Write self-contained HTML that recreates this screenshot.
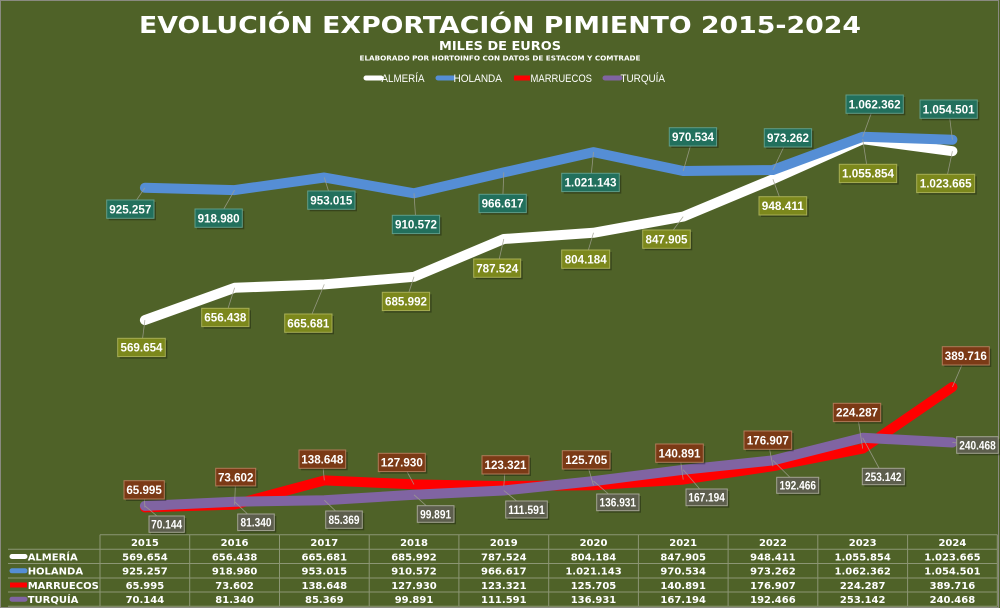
<!DOCTYPE html>
<html><head><meta charset="utf-8"><style>
html,body{margin:0;padding:0;background:#4f6228;}
svg{display:block;}
.t{font-family:"DejaVu Sans","Liberation Sans",sans-serif;font-weight:bold;fill:#fff;}
.lb{font-family:"Liberation Sans",sans-serif;font-weight:bold;fill:#fff;font-size:12px;}
.lbs{font-family:"Liberation Sans",sans-serif;font-weight:bold;fill:#fff;font-size:11.5px;}
.lg{font-family:"Liberation Sans",sans-serif;fill:#fff;font-size:11px;}
.tb{font-family:"DejaVu Sans",sans-serif;font-weight:bold;fill:#fff;font-size:10px;}
</style></head><body>
<svg width="1000" height="608" viewBox="0 0 1000 608" xmlns="http://www.w3.org/2000/svg">
<rect x="0" y="0" width="1000" height="608" fill="#4f6228"/>
<rect x="0.5" y="0.5" width="998" height="607" fill="none" stroke="#8a8a80" stroke-width="1"/>

<!-- Titles -->
<text class="t" x="500" y="33" font-size="23" text-anchor="middle" textLength="722" lengthAdjust="spacingAndGlyphs">EVOLUCIÓN EXPORTACIÓN PIMIENTO 2015-2024</text>
<text class="t" x="500" y="50" font-size="12.5" text-anchor="middle" textLength="122" lengthAdjust="spacingAndGlyphs">MILES DE EUROS</text>
<text class="t" x="500" y="60.5" font-size="7" text-anchor="middle" textLength="281" lengthAdjust="spacingAndGlyphs">ELABORADO POR HORTOINFO CON DATOS DE ESTACOM Y COMTRADE</text>

<!-- Legend -->
<g stroke-linecap="round" stroke-width="5">
<line x1="366" y1="78" x2="381" y2="78" stroke="#ffffff"/>
<line x1="438" y1="78" x2="453" y2="78" stroke="#558ed5"/>
<line x1="514" y1="78" x2="530" y2="78" stroke="#ff0000" stroke-linecap="butt"/>
<line x1="605" y1="78" x2="620" y2="78" stroke="#8064a2"/>
</g>
<text class="lg" x="381.5" y="82" textLength="43" lengthAdjust="spacingAndGlyphs">ALMERÍA</text>
<text class="lg" x="453.5" y="82" textLength="48.5" lengthAdjust="spacingAndGlyphs">HOLANDA</text>
<text class="lg" x="530.5" y="82" textLength="61.5" lengthAdjust="spacingAndGlyphs">MARRUECOS</text>
<text class="lg" x="620.5" y="82" textLength="44.5" lengthAdjust="spacingAndGlyphs">TURQUÍA</text>

<!-- Series lines -->
<g fill="none" stroke-linecap="round" stroke-linejoin="round" stroke-width="10">
<polyline stroke="#ffffff" points="144.9,320.1 234.6,287.8 324.3,284.4 414.0,276.8 503.8,239.0 593.5,232.8 683.2,216.6 772.9,179.2 862.7,139.2 952.4,151.2"/>
<polyline stroke="#558ed5" points="144.9,187.8 234.6,190.1 324.3,177.5 414.0,193.3 503.8,172.4 593.5,152.1 683.2,171.0 772.9,170.0 862.7,136.8 952.4,139.7"/>
<polyline stroke="#ff0000" points="144.9,507.4 234.6,504.6 324.3,480.4 414.0,484.4 503.8,486.1 593.5,485.2 683.2,479.6 772.9,466.2 862.7,448.6 952.4,387.0"/>
<polyline stroke="#8064a2" points="144.9,505.9 234.6,501.7 324.3,500.2 414.0,494.8 503.8,490.5 593.5,481.1 683.2,469.8 772.9,460.4 862.7,437.8 952.4,442.5"/>
</g>

<!-- Leader lines -->
<g stroke="#a0a090" stroke-width="0.8" opacity="0.85">
<line x1="144.9" y1="187.8" x2="130.3" y2="209"/>
<line x1="234.6" y1="190.1" x2="218.6" y2="218"/>
<line x1="324.3" y1="177.5" x2="331.3" y2="200"/>
<line x1="414.0" y1="193.3" x2="416" y2="224"/>
<line x1="503.8" y1="172.4" x2="502.6" y2="203"/>
<line x1="593.5" y1="152.1" x2="590.5" y2="182"/>
<line x1="683.2" y1="171.0" x2="693" y2="137"/>
<line x1="772.9" y1="170.0" x2="788" y2="138"/>
<line x1="862.7" y1="136.8" x2="874.6" y2="104"/>
<line x1="952.4" y1="139.7" x2="948.6" y2="109"/>

<line x1="144.9" y1="320.1" x2="141.5" y2="347"/>
<line x1="234.6" y1="287.8" x2="225.3" y2="317"/>
<line x1="324.3" y1="284.4" x2="308.3" y2="323"/>
<line x1="414.0" y1="276.8" x2="406" y2="301"/>
<line x1="503.8" y1="239.0" x2="497.2" y2="268"/>
<line x1="593.5" y1="232.8" x2="585.7" y2="259"/>
<line x1="683.2" y1="216.6" x2="666.5" y2="239"/>
<line x1="772.9" y1="179.2" x2="782.8" y2="206"/>
<line x1="862.7" y1="139.2" x2="868" y2="173"/>
<line x1="952.4" y1="151.2" x2="945.7" y2="183"/>

<line x1="144.9" y1="507.4" x2="144" y2="490"/>
<line x1="234.6" y1="504.6" x2="235.7" y2="477"/>
<line x1="324.3" y1="480.4" x2="322.3" y2="459"/>
<line x1="414.0" y1="484.4" x2="401.8" y2="462"/>
<line x1="503.8" y1="486.1" x2="505.5" y2="465"/>
<line x1="593.5" y1="485.2" x2="586" y2="460"/>
<line x1="683.2" y1="479.6" x2="679.5" y2="453"/>
<line x1="772.9" y1="466.2" x2="767.8" y2="440"/>
<line x1="862.7" y1="448.6" x2="857" y2="412"/>
<line x1="952.4" y1="387.0" x2="965.8" y2="356"/>

<line x1="144.9" y1="505.9" x2="166.6" y2="524"/>
<line x1="234.6" y1="501.7" x2="256" y2="522"/>
<line x1="324.3" y1="500.2" x2="344" y2="519"/>
<line x1="414.0" y1="494.8" x2="435.6" y2="514"/>
<line x1="503.8" y1="490.5" x2="526.5" y2="509"/>
<line x1="593.5" y1="481.1" x2="617.8" y2="502"/>
<line x1="683.2" y1="469.8" x2="706.6" y2="497"/>
<line x1="772.9" y1="460.4" x2="797.7" y2="485"/>
<line x1="862.7" y1="437.8" x2="883.3" y2="476"/>
<line x1="952.4" y1="442.5" x2="977.5" y2="445"/>
</g>

<!-- Holanda labels (teal) -->
<g>
<g fill="#000" opacity="0.3">
<rect x="108.7" y="202" width="47.3" height="18.3"/><rect x="197" y="211" width="47.3" height="18.3"/><rect x="309.7" y="193" width="47.3" height="18.3"/><rect x="394.3" y="217.3" width="47.3" height="18.3"/><rect x="481" y="196.3" width="47.3" height="18.3"/><rect x="563.7" y="175.3" width="57.6" height="18.3"/><rect x="671.3" y="129.7" width="47.3" height="18.3"/><rect x="766.3" y="130.7" width="47.3" height="18.3"/><rect x="848" y="97" width="57.3" height="18.3"/><rect x="922" y="102" width="57.3" height="18.3"/>
</g>
<g fill="#22705d" stroke="#5f9c88" stroke-width="1">
<rect x="106.7" y="200" width="47.3" height="18.3"/><rect x="195" y="209" width="47.3" height="18.3"/><rect x="307.7" y="191" width="47.3" height="18.3"/><rect x="392.3" y="215.3" width="47.3" height="18.3"/><rect x="479" y="194.3" width="47.3" height="18.3"/><rect x="561.7" y="173.3" width="57.6" height="18.3"/><rect x="669.3" y="127.7" width="47.3" height="18.3"/><rect x="764.3" y="128.7" width="47.3" height="18.3"/><rect x="846" y="95" width="57.3" height="18.3"/><rect x="920" y="100" width="57.3" height="18.3"/>
</g>
<g class="lb" text-anchor="middle">
<text x="130.3" y="213.3" textLength="42" lengthAdjust="spacingAndGlyphs">925.257</text>
<text x="218.6" y="222.3" textLength="42" lengthAdjust="spacingAndGlyphs">918.980</text>
<text x="331.3" y="204.3" textLength="42" lengthAdjust="spacingAndGlyphs">953.015</text>
<text x="416" y="228.6" textLength="42" lengthAdjust="spacingAndGlyphs">910.572</text>
<text x="502.6" y="207.6" textLength="42" lengthAdjust="spacingAndGlyphs">966.617</text>
<text x="590.5" y="186.6" textLength="52" lengthAdjust="spacingAndGlyphs">1.021.143</text>
<text x="693" y="141" textLength="42" lengthAdjust="spacingAndGlyphs">970.534</text>
<text x="788" y="142" textLength="42" lengthAdjust="spacingAndGlyphs">973.262</text>
<text x="874.6" y="108.3" textLength="52" lengthAdjust="spacingAndGlyphs">1.062.362</text>
<text x="948.6" y="113.3" textLength="52" lengthAdjust="spacingAndGlyphs">1.054.501</text>
</g>
</g>

<!-- Almería labels (olive) -->
<g>
<g fill="#000" opacity="0.3">
<rect x="119.7" y="340.3" width="47.6" height="18.3"/><rect x="203.7" y="310.3" width="47.3" height="18.3"/><rect x="286.7" y="316" width="47.3" height="18.3"/><rect x="384.3" y="294.3" width="47.3" height="18.3"/><rect x="475.7" y="261" width="47" height="18.3"/><rect x="563.7" y="252" width="48" height="18.3"/><rect x="644.7" y="232" width="47.6" height="18.3"/><rect x="761" y="198.7" width="47.7" height="18.3"/><rect x="841.3" y="166.3" width="57.4" height="18.3"/><rect x="918.7" y="176.3" width="58" height="18.3"/>
</g>
<g fill="#7c881c" stroke="#a7ae55" stroke-width="1">
<rect x="117.7" y="338.3" width="47.6" height="18.3"/><rect x="201.7" y="308.3" width="47.3" height="18.3"/><rect x="284.7" y="314" width="47.3" height="18.3"/><rect x="382.3" y="292.3" width="47.3" height="18.3"/><rect x="473.7" y="259" width="47" height="18.3"/><rect x="561.7" y="250" width="48" height="18.3"/><rect x="642.7" y="230" width="47.6" height="18.3"/><rect x="759" y="196.7" width="47.7" height="18.3"/><rect x="839.3" y="164.3" width="57.4" height="18.3"/><rect x="916.7" y="174.3" width="58" height="18.3"/>
</g>
<g class="lb" text-anchor="middle">
<text x="141.5" y="351.6" textLength="42" lengthAdjust="spacingAndGlyphs">569.654</text>
<text x="225.3" y="321.6" textLength="42" lengthAdjust="spacingAndGlyphs">656.438</text>
<text x="308.3" y="327.3" textLength="42" lengthAdjust="spacingAndGlyphs">665.681</text>
<text x="406" y="305.6" textLength="42" lengthAdjust="spacingAndGlyphs">685.992</text>
<text x="497.2" y="272.3" textLength="42" lengthAdjust="spacingAndGlyphs">787.524</text>
<text x="585.7" y="263.3" textLength="42" lengthAdjust="spacingAndGlyphs">804.184</text>
<text x="666.5" y="243.3" textLength="42" lengthAdjust="spacingAndGlyphs">847.905</text>
<text x="782.8" y="210" textLength="42" lengthAdjust="spacingAndGlyphs">948.411</text>
<text x="868" y="177.6" textLength="52" lengthAdjust="spacingAndGlyphs">1.055.854</text>
<text x="945.7" y="187.6" textLength="52" lengthAdjust="spacingAndGlyphs">1.023.665</text>
</g>
</g>

<!-- Marruecos labels (brown) -->
<g>
<g fill="#000" opacity="0.3">
<rect x="126" y="482.7" width="40.3" height="18.3"/><rect x="217.7" y="470.3" width="40" height="17.6"/><rect x="301" y="452" width="46.7" height="18.3"/><rect x="380.3" y="455.3" width="47" height="18.3"/><rect x="484" y="457.7" width="47" height="18.3"/><rect x="564.3" y="452.7" width="47.7" height="18.3"/><rect x="657.7" y="446" width="47.6" height="18.3"/><rect x="746" y="433" width="47.7" height="18.3"/><rect x="835.3" y="405.3" width="47.4" height="18.3"/><rect x="944.3" y="348.7" width="47" height="18.3"/>
</g>
<g fill="#7b3a16" stroke="#b07a58" stroke-width="1">
<rect x="124" y="480.7" width="40.3" height="18.3"/><rect x="215.7" y="468.3" width="40" height="17.6"/><rect x="299" y="450" width="46.7" height="18.3"/><rect x="378.3" y="453.3" width="47" height="18.3"/><rect x="482" y="455.7" width="47" height="18.3"/><rect x="562.3" y="450.7" width="47.7" height="18.3"/><rect x="655.7" y="444" width="47.6" height="18.3"/><rect x="744" y="431" width="47.7" height="18.3"/><rect x="833.3" y="403.3" width="47.4" height="18.3"/><rect x="942.3" y="346.7" width="47" height="18.3"/>
</g>
<g class="lb" text-anchor="middle">
<text x="144.1" y="494" textLength="35.5" lengthAdjust="spacingAndGlyphs">65.995</text>
<text x="235.7" y="481.3" textLength="35.5" lengthAdjust="spacingAndGlyphs">73.602</text>
<text x="322.3" y="463.3" textLength="42" lengthAdjust="spacingAndGlyphs">138.648</text>
<text x="401.8" y="466.6" textLength="42" lengthAdjust="spacingAndGlyphs">127.930</text>
<text x="505.5" y="469" textLength="42" lengthAdjust="spacingAndGlyphs">123.321</text>
<text x="586.2" y="464" textLength="42" lengthAdjust="spacingAndGlyphs">125.705</text>
<text x="679.5" y="457.3" textLength="42" lengthAdjust="spacingAndGlyphs">140.891</text>
<text x="767.8" y="444.3" textLength="42" lengthAdjust="spacingAndGlyphs">176.907</text>
<text x="857" y="416.6" textLength="42" lengthAdjust="spacingAndGlyphs">224.287</text>
<text x="965.8" y="360" textLength="42" lengthAdjust="spacingAndGlyphs">389.716</text>
</g>
</g>

<!-- Turquía labels (gray) -->
<g>
<g fill="#000" opacity="0.3">
<rect x="151" y="518" width="35.3" height="16.3"/><rect x="239.7" y="516" width="36.6" height="16.6"/><rect x="327.7" y="513" width="36.6" height="17.3"/><rect x="419.3" y="507.7" width="36.7" height="16.6"/><rect x="507.7" y="503" width="41.6" height="17"/><rect x="598.7" y="496" width="42.3" height="16.7"/><rect x="688" y="491" width="41.3" height="16.7"/><rect x="778.7" y="479.3" width="42" height="16"/><rect x="864.3" y="470.3" width="42" height="16.4"/><rect x="958.7" y="438.7" width="41.6" height="16.6"/>
</g>
<g fill="#5d5e4d" stroke="#a3a393" stroke-width="1">
<rect x="149" y="516" width="35.3" height="16.3"/><rect x="237.7" y="514" width="36.6" height="16.6"/><rect x="325.7" y="511" width="36.6" height="17.3"/><rect x="417.3" y="505.7" width="36.7" height="16.6"/><rect x="505.7" y="501" width="41.6" height="17"/><rect x="596.7" y="494" width="42.3" height="16.7"/><rect x="686" y="489" width="41.3" height="16.7"/><rect x="776.7" y="477.3" width="42" height="16"/><rect x="862.3" y="468.3" width="42" height="16.4"/><rect x="956.7" y="436.7" width="41.6" height="16.6"/>
</g>
<g class="lbs" text-anchor="middle">
<text x="166.6" y="528.3" textLength="31" lengthAdjust="spacingAndGlyphs">70.144</text>
<text x="256" y="526.6" textLength="31" lengthAdjust="spacingAndGlyphs">81.340</text>
<text x="344" y="524" textLength="31" lengthAdjust="spacingAndGlyphs">85.369</text>
<text x="435.6" y="518.3" textLength="31" lengthAdjust="spacingAndGlyphs">99.891</text>
<text x="526.5" y="513.8" textLength="36.5" lengthAdjust="spacingAndGlyphs">111.591</text>
<text x="617.8" y="506.6" textLength="36.5" lengthAdjust="spacingAndGlyphs">136.931</text>
<text x="706.6" y="501.6" textLength="36.5" lengthAdjust="spacingAndGlyphs">167.194</text>
<text x="797.7" y="489.6" textLength="36.5" lengthAdjust="spacingAndGlyphs">192.466</text>
<text x="883.3" y="480.8" textLength="36.5" lengthAdjust="spacingAndGlyphs">253.142</text>
<text x="977.5" y="449.3" textLength="36.5" lengthAdjust="spacingAndGlyphs">240.468</text>
</g>
</g>

<!-- Data table -->
<g stroke="#8c9674" stroke-width="1" fill="none">
<line x1="100" y1="534.7" x2="997.3" y2="534.7"/>
<line x1="8" y1="549.3" x2="997.3" y2="549.3"/>
<line x1="8" y1="563.5" x2="997.3" y2="563.5"/>
<line x1="8" y1="578" x2="997.3" y2="578"/>
<line x1="8" y1="592" x2="997.3" y2="592"/>
<line x1="8" y1="606.3" x2="997.3" y2="606.3"/>
<line x1="100" y1="534.7" x2="100" y2="606.3"/>
<line x1="189.7" y1="534.7" x2="189.7" y2="606.3"/>
<line x1="279.5" y1="534.7" x2="279.5" y2="606.3"/>
<line x1="369.2" y1="534.7" x2="369.2" y2="606.3"/>
<line x1="458.9" y1="534.7" x2="458.9" y2="606.3"/>
<line x1="548.7" y1="534.7" x2="548.7" y2="606.3"/>
<line x1="638.4" y1="534.7" x2="638.4" y2="606.3"/>
<line x1="728.1" y1="534.7" x2="728.1" y2="606.3"/>
<line x1="817.8" y1="534.7" x2="817.8" y2="606.3"/>
<line x1="907.6" y1="534.7" x2="907.6" y2="606.3"/>
<line x1="997.3" y1="534.7" x2="997.3" y2="606.3"/>
</g>
<g stroke-width="5" stroke-linecap="round">
<line x1="12" y1="556.5" x2="25" y2="556.5" stroke="#ffffff"/>
<line x1="12" y1="570.8" x2="25" y2="570.8" stroke="#558ed5"/>
<line x1="10" y1="585" x2="27" y2="585" stroke="#ff0000" stroke-linecap="butt"/>
<line x1="12" y1="599.2" x2="25" y2="599.2" stroke="#8064a2"/>
</g>
<g class="tb">
<text x="27.7" y="560.3">ALMERÍA</text>
<text x="27.7" y="574.5">HOLANDA</text>
<text x="27.7" y="589">MARRUECOS</text>
<text x="27.7" y="603.2">TURQUÍA</text>
</g>
<g class="tb" text-anchor="middle">
<text x="144.9" y="546">2015</text><text x="234.6" y="546">2016</text><text x="324.3" y="546">2017</text><text x="414.0" y="546">2018</text><text x="503.8" y="546">2019</text><text x="593.5" y="546">2020</text><text x="683.2" y="546">2021</text><text x="772.9" y="546">2022</text><text x="862.7" y="546">2023</text><text x="952.4" y="546">2024</text>

<text x="144.9" y="560.3">569.654</text><text x="234.6" y="560.3">656.438</text><text x="324.3" y="560.3">665.681</text><text x="414.0" y="560.3">685.992</text><text x="503.8" y="560.3">787.524</text><text x="593.5" y="560.3">804.184</text><text x="683.2" y="560.3">847.905</text><text x="772.9" y="560.3">948.411</text><text x="862.7" y="560.3">1.055.854</text><text x="952.4" y="560.3">1.023.665</text>

<text x="144.9" y="574.5">925.257</text><text x="234.6" y="574.5">918.980</text><text x="324.3" y="574.5">953.015</text><text x="414.0" y="574.5">910.572</text><text x="503.8" y="574.5">966.617</text><text x="593.5" y="574.5">1.021.143</text><text x="683.2" y="574.5">970.534</text><text x="772.9" y="574.5">973.262</text><text x="862.7" y="574.5">1.062.362</text><text x="952.4" y="574.5">1.054.501</text>

<text x="144.9" y="589">65.995</text><text x="234.6" y="589">73.602</text><text x="324.3" y="589">138.648</text><text x="414.0" y="589">127.930</text><text x="503.8" y="589">123.321</text><text x="593.5" y="589">125.705</text><text x="683.2" y="589">140.891</text><text x="772.9" y="589">176.907</text><text x="862.7" y="589">224.287</text><text x="952.4" y="589">389.716</text>

<text x="144.9" y="603.2">70.144</text><text x="234.6" y="603.2">81.340</text><text x="324.3" y="603.2">85.369</text><text x="414.0" y="603.2">99.891</text><text x="503.8" y="603.2">111.591</text><text x="593.5" y="603.2">136.931</text><text x="683.2" y="603.2">167.194</text><text x="772.9" y="603.2">192.466</text><text x="862.7" y="603.2">253.142</text><text x="952.4" y="603.2">240.468</text>
</g>
</svg>
</body></html>
